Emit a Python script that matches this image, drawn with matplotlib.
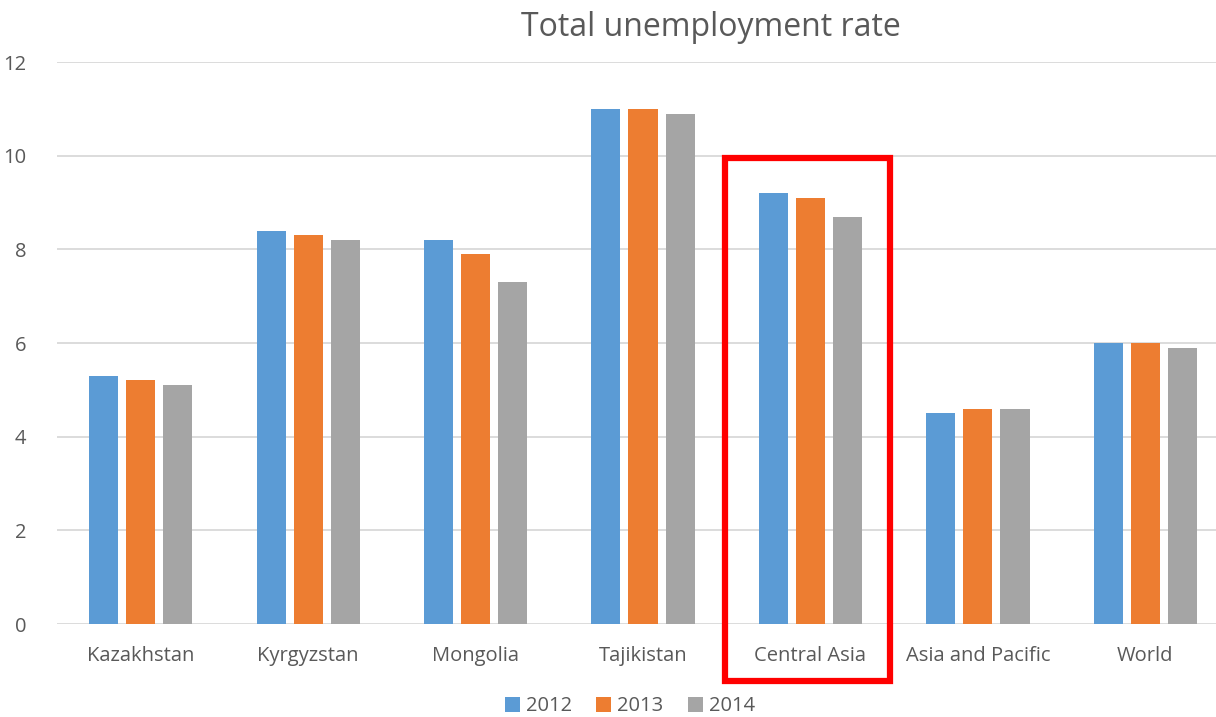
import matplotlib
matplotlib.use('Agg')
import matplotlib.pyplot as plt
import numpy as np
from matplotlib.patches import Rectangle

regions = ['Kazakhstan', 'Kyrgyzstan', 'Mongolia', 'Tajikistan',
           'Central Asia', 'Asia and Pacific', 'World']
years = ['2012', '2013', '2014']
rate_2012 = [5.3, 8.4, 8.2, 11.0, 9.2, 4.5, 6.0]
rate_2013 = [5.2, 8.3, 7.9, 11.0, 9.1, 4.6, 6.0]
rate_2014 = [5.1, 8.2, 7.3, 10.9, 8.7, 4.6, 5.9]
colors = ['#5b9bd5', '#ed7d31', '#a5a5a5']

plt.rcParams['font.family'] = ['Open Sans', 'DejaVu Sans']
txt = '#595959'

fig = plt.figure(figsize=(12.16, 7.17), dpi=100)
ax = fig.add_axes([0.0469, 0.1297, 0.9638, 0.7838])

x = np.arange(len(regions))
w = 0.174
step = 0.2216
for i, (vals, yr) in enumerate(zip([rate_2012, rate_2013, rate_2014], years)):
    ax.bar(x + (i - 1) * step, vals, width=w, color=colors[i], label=yr, zorder=2)

ax.set_xlim(-0.5, len(regions) - 0.5)
ax.set_ylim(0, 12)
ax.set_yticks(range(0, 13, 2))
ax.set_xticks(x)
ax.set_xticklabels(regions)
ax.grid(axis='y', color='#d9d9d9', linewidth=1.3, zorder=0)
ax.set_axisbelow(True)
for s in ax.spines.values():
    s.set_visible(False)
ax.tick_params(length=0, labelsize=14.5, colors=txt)
ax.tick_params(axis='x', pad=16)
ax.tick_params(axis='y', pad=22)

# highlight box around Central Asia
ax.add_patch(Rectangle((3.49, -1.22), 0.986, 11.17, fill=False,
                       edgecolor='#ff0000', linewidth=4.5, clip_on=False, zorder=5))

fig.text(0.585, 0.962, 'Total unemployment rate', ha='center', va='center',
         fontsize=23, color=txt)
fig.legend(loc='center', bbox_to_anchor=(0.518, 0.015), ncol=3, frameon=False,
           fontsize=14.5, labelcolor=txt, handlelength=0.75, handleheight=0.75,
           handletextpad=0.3, columnspacing=1.2)

plt.savefig('out.png', dpi=100)
